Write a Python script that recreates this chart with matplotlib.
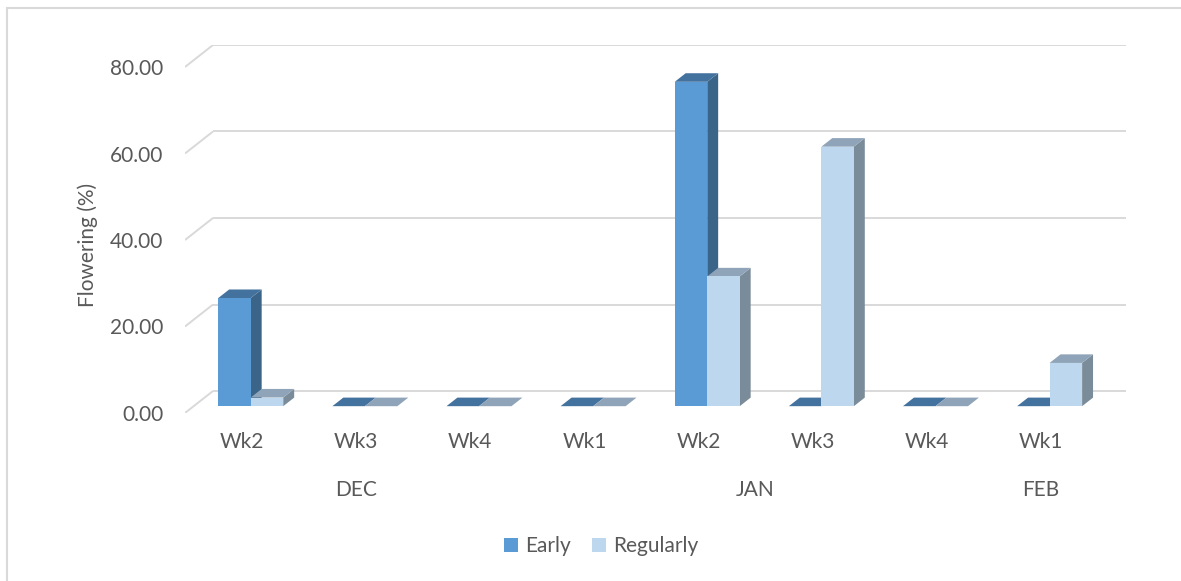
import matplotlib
matplotlib.use("Agg")
import matplotlib.pyplot as plt
from matplotlib.patches import Polygon, Rectangle, Patch

# Data
categories = ["Wk2", "Wk3", "Wk4", "Wk1", "Wk2", "Wk3", "Wk4", "Wk1"]
months = ["DEC", "JAN", "FEB"]
month_first = [0, 3, 7]
month_last = [3, 7, 8]
early = [25, 0, 0, 0, 75, 0, 0, 0]
regularly = [2, 0, 0, 0, 30, 60, 0, 10]
y_ticks = [0, 20, 40, 60, 80]

plt.rcParams["font.family"] = ["Lato", "DejaVu Sans"]
TXT = "#595959"
GRID = "#D9D9D9"
FS = 15

W, H = 1181, 581
fig = plt.figure(figsize=(W / 100, H / 100), dpi=100)
fig.patch.set_facecolor("white")

# oblique depth vector of the 3D floor (in category / value units)
n = len(categories)
DX = 28 / 114.125
DY = 22 / 4.325
ymax = 80

left_px, right_px = 185, 1126
bottom_px, top_px = 413, 45
ax = fig.add_axes([left_px / W, (H - bottom_px) / H,
                   (right_px - left_px) / W, (bottom_px - top_px) / H])
ax.set_xlim(0, n + DX)
ax.set_ylim(0, ymax + DY)
for s in ax.spines.values():
    s.set_visible(False)

# back-wall gridlines and their floor/side diagonals
for v in y_ticks:
    ax.plot([DX, n + DX], [v + DY, v + DY], color=GRID, lw=1.4, zorder=1,
            solid_capstyle="butt")
    ax.plot([0, DX], [v, v + DY], color=GRID, lw=1.4, zorder=1,
            solid_capstyle="butt")

# 3D bars
bar_w = 32.5 / 114.125
d_front = 0.31
d_depth = 0.39
series = [
    (early, "#5B9BD5", "#44729F", "#3A6589", -1),
    (regularly, "#BDD7EE", "#8FA4B8", "#7A8B9A", 0),
]
z = 3
for i in range(n):
    c = i + 0.5
    for vals, front, topc, sidec, off in series:
        v = vals[i]
        x0 = c + off * bar_w + d_front * DX
        x1 = x0 + bar_w
        b = d_front * DY
        t = b + v
        ddx, ddy = d_depth * DX, d_depth * DY
        side = Polygon([(x1, b), (x1 + ddx, b + ddy), (x1 + ddx, t + ddy), (x1, t)],
                       closed=True, facecolor=sidec, edgecolor="none", zorder=z)
        top = Polygon([(x0, t), (x1, t), (x1 + ddx, t + ddy), (x0 + ddx, t + ddy)],
                      closed=True, facecolor=topc, edgecolor="none", zorder=z)
        ax.add_patch(side)
        ax.add_patch(top)
        if v > 0:
            ax.bar(x0, v, width=bar_w, bottom=b, align="edge", color=front,
                   edgecolor="none", zorder=z)
        z += 1

# axes labels
ax.set_yticks(y_ticks)
ax.set_yticklabels([f"{v:.2f}" for v in y_ticks], fontsize=FS, color=TXT)
ax.set_xticks([i + 0.5 for i in range(n)])
ax.set_xticklabels(categories, fontsize=FS, color=TXT)
ax.tick_params(axis="both", length=0)
ax.tick_params(axis="y", pad=15.5)
ax.tick_params(axis="x", pad=14)

for name, a, b in zip(months, month_first, month_last):
    ax.annotate(name, xy=((a + b) / 2, 0), xycoords=("data", "axes fraction"),
                xytext=(0, -77 * 0.72), textcoords="offset points",
                ha="center", va="center", fontsize=FS, color=TXT)

fig.text(88 / W, 1 - 245 / H, "Flowering (%)", rotation=90, ha="center",
         va="center", fontsize=FS, color=TXT)

handles = [Patch(facecolor="#5B9BD5", edgecolor="none", label="Early"),
           Patch(facecolor="#BDD7EE", edgecolor="none", label="Regularly")]
fig.legend(handles=handles, loc="center", bbox_to_anchor=(601 / W, 1 - 546 / H),
           ncol=2, frameon=False, fontsize=FS, labelcolor=TXT,
           handlelength=0.67, handleheight=0.67, handletextpad=0.35,
           columnspacing=1.0)

# chart-area border
fig.patches.append(Rectangle((7 / W, -0.1), 1.2, (H - 8) / H + 0.1,
                             transform=fig.transFigure, fill=False,
                             edgecolor=GRID, lw=1.5))

fig.savefig("out.png", dpi=100, facecolor="white")
